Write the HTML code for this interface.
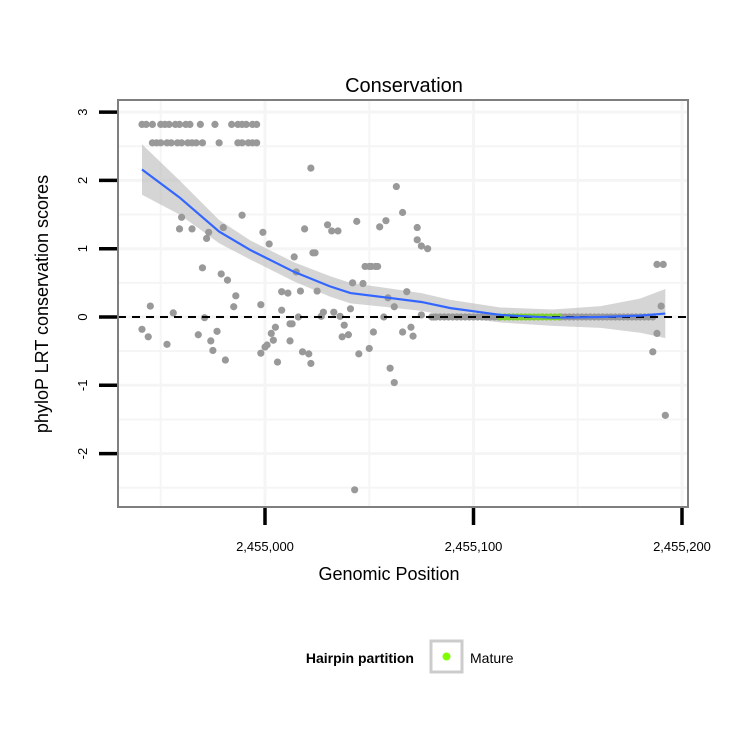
<!DOCTYPE html>
<html><head><meta charset="utf-8"><style>
html,body{margin:0;padding:0;background:#fff;}
svg{display:block;font-family:"Liberation Sans",Arial,sans-serif;}
</style></head><body>
<svg id="chart" width="750" height="750" viewBox="0 0 750 750">
<text x="404" y="92" font-size="20" text-anchor="middle">Conservation</text>
<rect x="118" y="100" width="570" height="407" fill="#fff"/>
<g id="grid"></g>
<g id="band"></g>
<g id="pts"></g>
<g id="mature"></g>
<line x1="118" y1="317" x2="688" y2="317" stroke="#000" stroke-width="2" stroke-dasharray="8,6"/>
<g id="smooth"></g>
<rect x="118" y="100" width="570" height="407" fill="none" stroke="#7f7f7f" stroke-width="2"/>
<g id="axes"></g>
<text x="389" y="580" font-size="18" text-anchor="middle">Genomic Position</text>
<text transform="translate(48,304) rotate(-90)" font-size="18" text-anchor="middle">phyloP LRT conservation scores</text>
<g>
<text x="414" y="663" font-size="14" font-weight="bold" text-anchor="end">Hairpin partition</text>
<rect x="431" y="641" width="31" height="31" fill="#fff" stroke="#cccccc" stroke-width="3"/>
<circle cx="446.5" cy="656.5" r="4" fill="#7fff00"/>
<text x="470" y="663" font-size="14">Mature</text>
</g>
</svg>
<script>
const xTicks=[0,100,200];
const xTickLabels=["2,455,000","2,455,100","2,455,200"];
const yTicks=[-2,-1,0,1,2,3];
const yTickLabels=["-2","-1","0","1","2","3"];
const ptPos=[-59,-57,-54,-50,-48,-46,-43,-41,-38,-36,-31,-24,-16,-13,-11,-9,-6,-4,
-54,-52,-50,-47,-45,-42,-40,-37,-35,-33,-30,-22,-13,-11,-8,-6,-4,
22,-40,-41,-35,-11,-20,-27,-28,-1,2,19,14,23,15,-30,-21,-18,-14,-15,-2,8,17,-55,-44,-29,-59,-56,-47,-32,-23,-26,-25,-19,5,3,4,0,-2,6,12,12,18,22,16,8,
63,66,44,58,55,30,32,35,73,73,75,78,24,48,50,51,53,54,42,47,11,25,59,68,27,28,33,36,41,57,62,75,81,13,38,37,40,52,66,70,71,1,21,45,50,60,62,43,
80,82,84,86,88,90,92,94,96,98,100,102,104,106,108,110,112,142,144,146,148,150,152,154,156,158,160,162,164,166,168,170,172,174,176,178,180,182,184,186,
188,191,190,188,186,192];
const ptVal=[2.82,2.82,2.82,2.82,2.82,2.82,2.82,2.82,2.82,2.82,2.82,2.82,2.82,2.82,2.82,2.82,2.82,2.82,
2.55,2.55,2.55,2.55,2.55,2.55,2.55,2.55,2.55,2.55,2.55,2.55,2.55,2.55,2.55,2.55,2.55,
2.18,1.46,1.29,1.29,1.49,1.31,1.24,1.15,1.24,1.07,1.29,0.88,0.94,0.66,0.72,0.63,0.54,0.31,0.15,0.18,0.37,0.38,0.16,0.06,-0.01,-0.18,-0.29,-0.40,-0.26,-0.21,-0.35,-0.49,-0.63,-0.15,-0.24,-0.34,-0.44,-0.53,-0.66,-0.10,-0.35,-0.51,-0.68,0,0.10,
1.91,1.53,1.40,1.41,1.32,1.35,1.26,1.26,1.31,1.13,1.04,1.00,0.94,0.74,0.74,0.74,0.74,0.74,0.50,0.49,0.35,0.38,0.28,0.37,0.01,0.07,0.07,0.01,0.12,0,0.15,0.03,0,-0.10,-0.12,-0.29,-0.26,-0.22,-0.22,-0.15,-0.28,-0.41,-0.54,-0.54,-0.46,-0.75,-0.96,-2.53,
0,0,0,0,0,0,0,0,0,0,0,0,0,0,0,0,0,0,0,0,0,0,0,0,0,0,0,0,0,0,0,0,0,0,0,0,0,0,0,0,
0.77,0.77,0.16,-0.24,-0.51,-1.44];
const maturePos=[113,115,117,119,121,123,125,127,129,131,133,135,137,139,141];
const matureVal=[0,0,0,0,0,0,0,0,0,0,0,0,0,0,0];
const fitPos=[-59,-41,-22,-7,14,31,41,57,75,89,113,138,161,180,192];
const fitVal=[2.16,1.75,1.25,0.98,0.66,0.45,0.35,0.29,0.22,0.13,0.03,-0.01,0.0,0.02,0.05];
const fitSe=[0.37,0.25,0.17,0.14,0.14,0.15,0.15,0.14,0.13,0.12,0.11,0.12,0.16,0.25,0.36];

const NS='http://www.w3.org/2000/svg';
function xS(b){return 265+b*2.085;}
function yS(v){return 317-v*68.3;}
function mk(tag,attrs,parent){const e=document.createElementNS(NS,tag);for(const k in attrs)e.setAttribute(k,attrs[k]);parent.appendChild(e);return e;}
const grid=document.getElementById('grid');
[-50,0,50,100,150,200].forEach(b=>{const l=mk('line',{x1:xS(b),x2:xS(b),y1:101,y2:506,stroke:'#f5f5f5','stroke-width':b%100===0?3:2},grid);

});
[-2.5,-2,-1.5,-1,-0.5,0,0.5,1,1.5,2,2.5,3].forEach(v=>{const l=mk('line',{x1:119,x2:687,y1:yS(v),y2:yS(v),stroke:'#f5f5f5','stroke-width':Number.isInteger(v)?3:2},grid);

});
const band=document.getElementById('band');
let up=fitPos.map((p,i)=>xS(p)+','+yS(fitVal[i]+fitSe[i]));
let dn=fitPos.map((p,i)=>xS(p)+','+yS(fitVal[i]-fitSe[i])).reverse();
const bp=mk('polygon',{points:up.concat(dn).join(' '),fill:'#b3b3b3','fill-opacity':0.55},band);


const pts=document.getElementById('pts');
ptPos.forEach((p,i)=>{const c=mk('circle',{cx:xS(p),cy:yS(ptVal[i]),r:3.6,fill:'#999999'},pts);

});
const mat=document.getElementById('mature');
maturePos.forEach((p,i)=>{const c=mk('circle',{cx:xS(p),cy:yS(matureVal[i]),r:3.6,fill:'#7fd030'},mat);

});
const sm=document.getElementById('smooth');
const pl=mk('polyline',{points:fitPos.map((p,i)=>xS(p)+','+yS(fitVal[i])).join(' '),fill:'none',stroke:'#3366ff','stroke-width':2.2},sm);


const ax=document.getElementById('axes');
xTicks.forEach((b,i)=>{const t=mk('line',{x1:xS(b),x2:xS(b),y1:508,y2:525,stroke:'#000','stroke-width':3.5},ax);


const tx=mk('text',{x:xS(b),y:551,'font-size':13,'text-anchor':'middle'},ax);tx.textContent=xTickLabels[i];

});
yTicks.forEach((v,i)=>{const t=mk('line',{x1:99,x2:117,y1:yS(v),y2:yS(v),stroke:'#000','stroke-width':3.5},ax);


const tx=mk('text',{transform:'translate(87,'+yS(v)+') rotate(-90)','font-size':13,'text-anchor':'middle'},ax);tx.textContent=yTickLabels[i];

});
</script>
</body></html>
